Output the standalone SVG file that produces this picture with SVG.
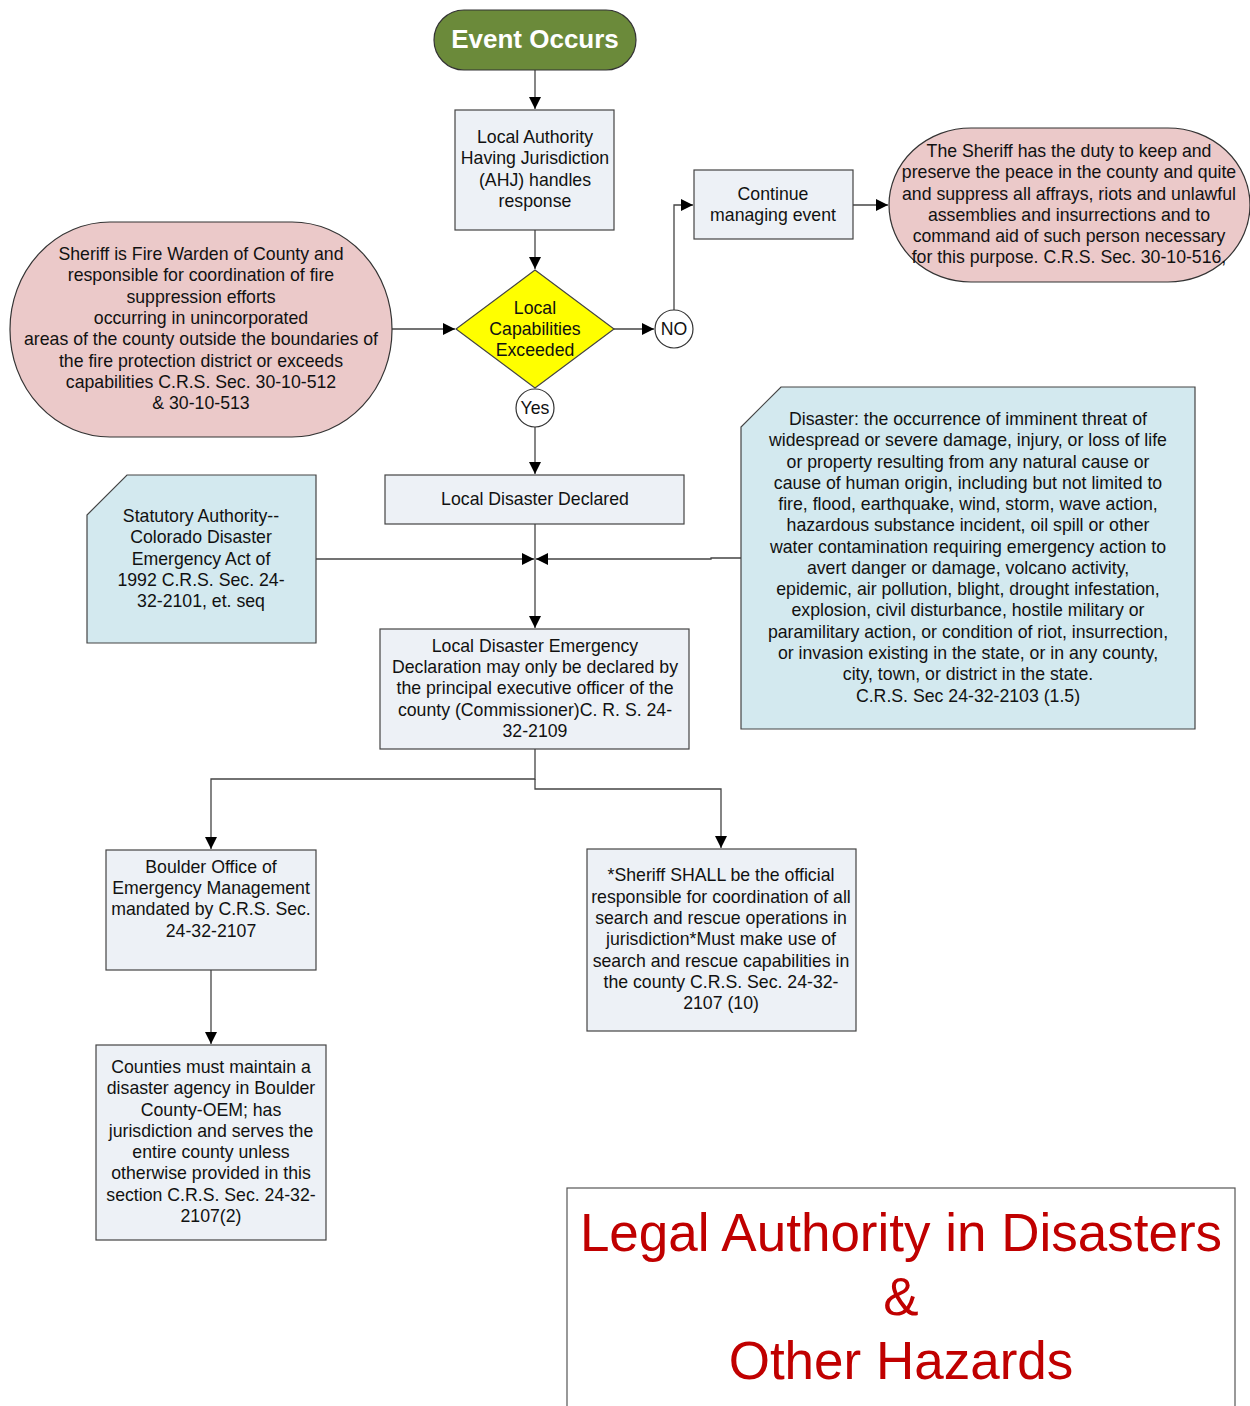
<svg xmlns="http://www.w3.org/2000/svg" width="1250" height="1406" viewBox="0 0 1250 1406">
<defs>
<marker id="arr" viewBox="0 0 10 10" refX="10" refY="5" markerWidth="12" markerHeight="12" markerUnits="userSpaceOnUse" orient="auto">
<path d="M0,0 L10,5 L0,10 Z" fill="#000"/>
</marker>
</defs>
<style>
text{font-family:"Liberation Sans",Arial,sans-serif;font-size:17.7px;fill:#111;text-anchor:middle}
.box{fill:#edf1f6;stroke:#444;stroke-width:1.2}
.pink{fill:#ebc9c9;stroke:#333;stroke-width:1.2}
.card{fill:#d3e9ef;stroke:#444;stroke-width:1.2}
.circ{fill:#fff;stroke:#333;stroke-width:1.2}
.con{fill:none;stroke:#444;stroke-width:1.3}
.title{font-size:53px;fill:#c00000}
</style>
<rect width="1250" height="1406" fill="#fff"/>

<g id="connectors">
<line class="con" x1="535" y1="70" x2="535" y2="109" marker-end="url(#arr)"/>
<line class="con" x1="535" y1="230" x2="535" y2="269" marker-end="url(#arr)"/>
<line class="con" x1="392" y1="329" x2="455" y2="329" marker-end="url(#arr)"/>
<line class="con" x1="614" y1="329" x2="654" y2="329" marker-end="url(#arr)"/>
<polyline class="con" points="674,310 674,205 693,205" marker-end="url(#arr)"/>
<line class="con" x1="853" y1="205" x2="888" y2="205" marker-end="url(#arr)"/>
<line class="con" x1="535" y1="427" x2="535" y2="474" marker-end="url(#arr)"/>
<line class="con" x1="535" y1="524" x2="535" y2="628" marker-end="url(#arr)"/>
<line class="con" x1="316" y1="559" x2="534" y2="559" marker-end="url(#arr)"/>
<polyline class="con" points="741,558 711,558 711,559 536,559" marker-end="url(#arr)"/>
<polyline class="con" points="535,749 535,779 211,779 211,849" marker-end="url(#arr)"/>
<polyline class="con" points="535,779 535,789 721,789 721,848" marker-end="url(#arr)"/>
<line class="con" x1="211" y1="970" x2="211" y2="1044" marker-end="url(#arr)"/>
</g>

<g id="event-occurs">
<rect x="434" y="10" width="202" height="60" rx="30" ry="30" fill="#6b8a3a" stroke="#333" stroke-width="1.2"/>
<text x="535" y="48" style="font-size:26px;font-weight:bold;fill:#fff">Event Occurs</text>
</g>

<g id="ahj">
<rect class="box" x="455" y="110" width="159" height="120"/>
<text x="535" y="143">Local Authority</text>
<text x="535" y="164">Having Jurisdiction</text>
<text x="535" y="186">(AHJ) handles</text>
<text x="535" y="207">response</text>
</g>

<g id="decision">
<polygon points="535,270 614,329 535,388 456,329" fill="#ffff00" stroke="#444" stroke-width="1.2"/>
<text x="535" y="314">Local</text>
<text x="535" y="335">Capabilities</text>
<text x="535" y="356">Exceeded</text>
</g>

<g id="fire-warden">
<rect class="pink" x="10" y="222" width="382" height="215" rx="100" ry="107"/>
<text x="201" y="260">Sheriff is Fire Warden of County and</text>
<text x="201" y="281">responsible for coordination of fire</text>
<text x="201" y="303">suppression efforts</text>
<text x="201" y="324">occurring in unincorporated</text>
<text x="201" y="345">areas of the county outside the boundaries of</text>
<text x="201" y="367">the fire protection district or exceeds</text>
<text x="201" y="388">capabilities C.R.S. Sec. 30-10-512</text>
<text x="201" y="409">&amp; 30-10-513</text>
</g>

<g id="no">
<circle class="circ" cx="674" cy="329" r="19"/>
<text x="674" y="335">NO</text>
</g>

<g id="continue">
<rect class="box" x="694" y="170" width="159" height="69"/>
<text x="773" y="200">Continue</text>
<text x="773" y="221">managing event</text>
</g>

<g id="sheriff-peace">
<rect class="pink" x="889" y="128" width="361" height="154" rx="82" ry="77"/>
<text x="1069" y="157">The Sheriff has the duty to keep and</text>
<text x="1069" y="178">preserve the peace in the county and quite</text>
<text x="1069" y="200">and suppress all affrays, riots and unlawful</text>
<text x="1069" y="221">assemblies and insurrections and to</text>
<text x="1069" y="242">command aid of such person necessary</text>
<text x="1069" y="263">for this purpose. C.R.S. Sec. 30-10-516,</text>
</g>

<g id="yes">
<circle class="circ" cx="535" cy="408" r="19"/>
<text x="535" y="414">Yes</text>
</g>

<g id="local-disaster-declared">
<rect class="box" x="385" y="475" width="299" height="49"/>
<text x="535" y="505">Local Disaster Declared</text>
</g>

<g id="statutory">
<polygon class="card" points="127,475 316,475 316,643 87,643 87,515"/>
<text x="201" y="522">Statutory Authority--</text>
<text x="201" y="543">Colorado Disaster</text>
<text x="201" y="565">Emergency Act of</text>
<text x="201" y="586">1992 C.R.S. Sec. 24-</text>
<text x="201" y="607">32-2101, et. seq</text>
</g>

<g id="disaster-definition">
<polygon class="card" points="781,387 1195,387 1195,729 741,729 741,427"/>
<text x="968" y="425">Disaster: the occurrence of imminent threat of</text>
<text x="968" y="446">widespread or severe damage, injury, or loss of life</text>
<text x="968" y="468">or property resulting from any natural cause or</text>
<text x="968" y="489">cause of human origin, including but not limited to</text>
<text x="968" y="510">fire, flood, earthquake, wind, storm, wave action,</text>
<text x="968" y="531">hazardous substance incident, oil spill or other</text>
<text x="968" y="553">water contamination requiring emergency action to</text>
<text x="968" y="574">avert danger or damage, volcano activity,</text>
<text x="968" y="595">epidemic, air pollution, blight, drought infestation,</text>
<text x="968" y="616">explosion, civil disturbance, hostile military or</text>
<text x="968" y="638">paramilitary action, or condition of riot, insurrection,</text>
<text x="968" y="659">or invasion existing in the state, or in any county,</text>
<text x="968" y="680">city, town, or district in the state.</text>
<text x="968" y="702">C.R.S. Sec 24-32-2103 (1.5)</text>
</g>

<g id="emergency-declaration">
<rect class="box" x="380" y="629" width="309" height="120"/>
<text x="535" y="652">Local Disaster Emergency</text>
<text x="535" y="673">Declaration may only be declared by</text>
<text x="535" y="694">the principal executive officer of the</text>
<text x="535" y="716">county (Commissioner)C. R. S. 24-</text>
<text x="535" y="737">32-2109</text>
</g>

<g id="boulder-oem">
<rect class="box" x="106" y="850" width="210" height="120"/>
<text x="211" y="873">Boulder Office of</text>
<text x="211" y="894">Emergency Management</text>
<text x="211" y="915">mandated by C.R.S. Sec.</text>
<text x="211" y="937">24-32-2107</text>
</g>

<g id="sheriff-sar">
<rect class="box" x="587" y="849" width="269" height="182"/>
<text x="721" y="881">*Sheriff SHALL be the official</text>
<text x="721" y="903">responsible for coordination of all</text>
<text x="721" y="924">search and rescue operations in</text>
<text x="721" y="945">jurisdiction*Must make use of</text>
<text x="721" y="967">search and rescue capabilities in</text>
<text x="721" y="988">the county C.R.S. Sec. 24-32-</text>
<text x="721" y="1009">2107 (10)</text>
</g>

<g id="counties">
<rect class="box" x="96" y="1045" width="230" height="195"/>
<text x="211" y="1073">Counties must maintain a</text>
<text x="211" y="1094">disaster agency in Boulder</text>
<text x="211" y="1116">County-OEM; has</text>
<text x="211" y="1137">jurisdiction and serves the</text>
<text x="211" y="1158">entire county unless</text>
<text x="211" y="1179">otherwise provided in this</text>
<text x="211" y="1201">section C.R.S. Sec. 24-32-</text>
<text x="211" y="1222">2107(2)</text>
</g>

<g id="title">
<rect x="567" y="1188" width="668" height="230" fill="#fff" stroke="#555" stroke-width="1.2"/>
<text class="title" x="901" y="1251">Legal Authority in Disasters</text>
<text class="title" x="901" y="1315">&amp;</text>
<text class="title" x="901" y="1379">Other Hazards</text>
</g>
</svg>
